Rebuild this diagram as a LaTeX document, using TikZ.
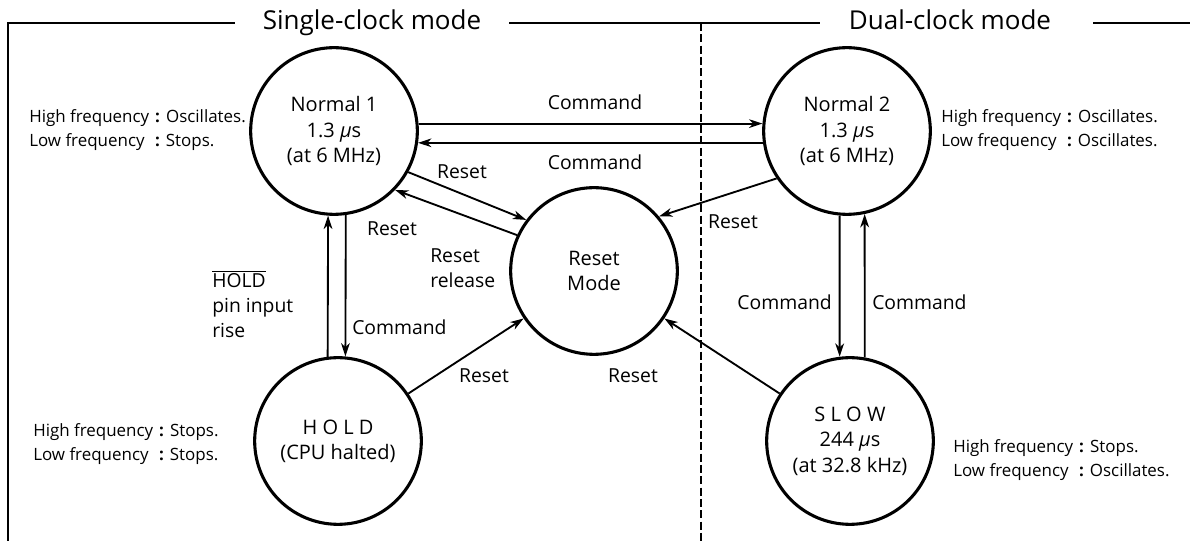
\documentclass[tikz,border=0pt]{standalone}
\usepackage{fontspec}
\setmainfont{Open Sans}
\usetikzlibrary{arrows.meta}
% full-width colon as used in the clock status lines
\newcommand\fwcolon{\makebox[1em]{\textbf{:}}}
\newcommand\freqrows[2]{High frequency\fwcolon#1\\Low frequency \fwcolon#2}
\begin{document}
\begin{tikzpicture}[x=0.75pt,y=-0.75pt,
  state/.style={circle,draw,line width=2.3pt,minimum size=125pt,inner sep=0pt,
    align=center,font=\fontsize{15}{19}\selectfont},
  lbl/.style={font=\fontsize{14.5}{18.75}\selectfont,inner sep=0pt},
  info/.style={font=\fontsize{12.7}{18}\selectfont,inner sep=0pt,anchor=west,align=left},
  trans/.style={line width=1.4pt,-{Stealth[length=10pt,width=6.5pt,inset=3pt]}},
  frame/.style={line width=1.5pt},
  divider/.style={line width=1.2pt,dash pattern=on 6pt off 2.5pt},
  title/.style={font=\fontsize{19.5}{23}\selectfont,inner sep=0pt,anchor=base}]
\useasboundingbox (0,0) rectangle (1190,541);

% mode headings and frame
\node[title] (t1) at (372,30) {Single-clock mode};
\node[title] (t2) at (950,30) {Dual-clock mode};
\coordinate (fBL) at (8,541);
\coordinate (fTL) at (8,23);
\coordinate (a1) at (235,23);
\coordinate (b1) at (509,23);
\coordinate (a2) at (820,23);
\coordinate (b2) at (1093,23);
\coordinate (fTR) at (1190,23);
\coordinate (dT) at (701,23);
\coordinate (dB) at (701,541);
\draw[frame] (fBL) -- (fTL) -- (a1);
\draw[frame] (b1) -- (a2);
\draw[frame] (b2) -- (fTR);
\draw[divider] (dT) -- (dB);

% operating states
\node[state] (N1) at (334,131) {Normal 1\\1.3 \textit{μ}s\\(at 6 MHz)};
\node[state] (N2) at (847,131) {Normal 2\\1.3 \textit{μ}s\\(at 6 MHz)};
\node[state] (R)  at (594,271) {Reset\\Mode};
\node[state] (H)  at (338,441) {H O L D\\(CPU halted)};
\node[state] (S)  at (850,441) {S L O W\\244 \textit{μ}s\\(at 32.8 kHz)};

% clock status of each state
\node[info] (iN1) at (29,130)  {\freqrows{Oscillates.}{Stops.}};
\node[info] (iN2) at (941,130) {\freqrows{Oscillates.}{Oscillates.}};
\node[info] (iH)  at (33,444)  {\freqrows{Stops.}{Stops.}};
\node[info] (iS)  at (953,460) {\freqrows{Stops.}{Oscillates.}};

% transitions
\draw[trans] (N1.5) -- (N2.175);
\draw[trans] (N2.-172) -- (N1.-8);
\draw[trans] (N1.-29) -- (R.143);
\draw[trans] (R.155) -- (N1.-44);
\draw[trans] (H.97) -- (N1.-94);
\draw[trans] (N1.-82) -- (H.85);
\draw[trans] (N2.-95) -- (S.97);
\draw[trans] (S.80) -- (N2.-78);
\draw[trans] (N2.-146) -- (R.40);
\draw[trans] (H.34) -- (R.-146);
\draw[trans] (S.146) -- (R.-34);

% transition labels
\node[lbl] (c1) at (595,102) {Command};
\node[lbl] (c2) at (595,162) {Command};
\node[lbl] (r1) at (462,172) {Reset};
\node[lbl] (r2) at (392,229) {Reset};
\node[lbl,anchor=west,align=left] (rr) at (430,268) {Reset\\release};
\node[lbl,anchor=west,align=left] (hp) at (212,304) {$\overline{\mbox{HOLD}}$\\pin input\\rise};
\node[lbl,anchor=west] (c3) at (352,327) {Command};
\node[lbl,anchor=east] (c4) at (832,302) {Command};
\node[lbl,anchor=west] (c5) at (872,302) {Command};
\node[lbl] (r3) at (733,222) {Reset};
\node[lbl] (r4) at (484,376) {Reset};
\node[lbl] (r5) at (633,376) {Reset};
\end{tikzpicture}
\end{document}
